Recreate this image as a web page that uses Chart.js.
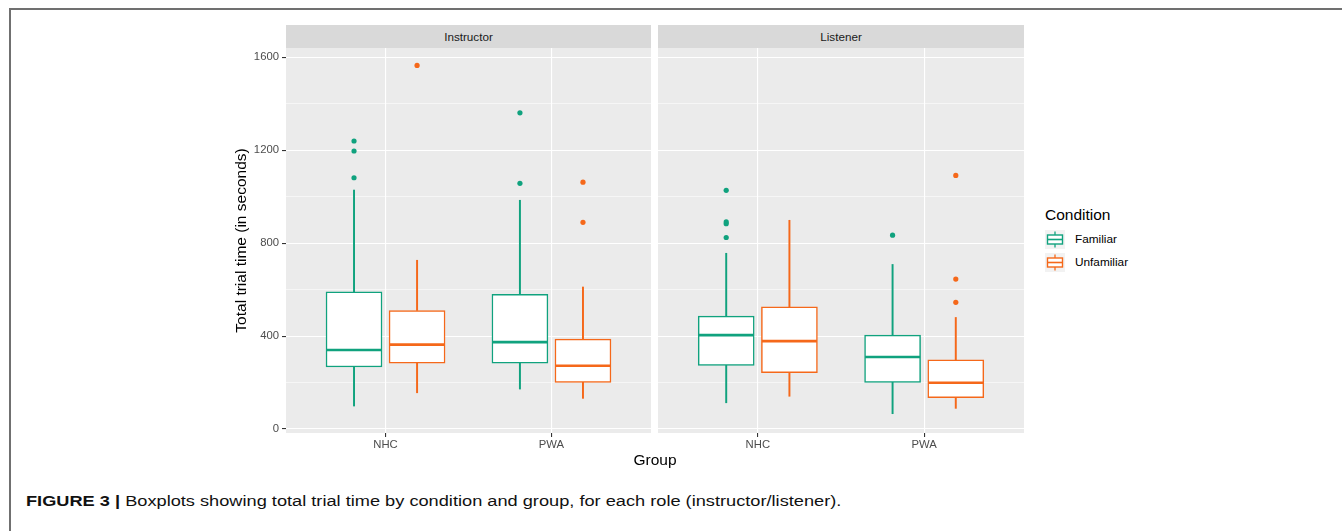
<!DOCTYPE html>
<html>
<head>
<meta charset="utf-8">
<script src="https://cdn.jsdelivr.net/npm/chart.js@4.4.1/dist/chart.umd.min.js"></script>
<style>
  body { margin: 0; background: #fff; font-family: 'Liberation Sans', Arial, sans-serif; }
  #page { position: relative; width: 1342px; height: 531px; overflow: hidden; background: #fff; }
  .frame { position: absolute; left: 9px; top: 8px; width: 1340px; height: 530px; border-top: 2px solid #707070; border-left: 2px solid #707070; }
  .strip { position: absolute; top: 25px; height: 23px; background: #d9d9d9; color: #1a1a1a; font-size: 11.7px; line-height: 23px; text-align: center; }
  .cv { position: absolute; }
  .xtitle { position: absolute; top: 450px; left: 555px; width: 200px; text-align: center; font-size: 15.5px; line-height: 19px; color: #000; }
  .legtitle { position: absolute; left: 1045px; top: 205px; font-size: 15.5px; line-height: 19px; color: #000; }
  .leglab { position: absolute; left: 1075px; font-size: 11.8px; line-height: 14px; color: #000; }
  .caption { position: absolute; left: 26px; top: 492px; font-size: 14px; line-height: 18px; color: #111; white-space: nowrap; transform: scaleX(1.3); transform-origin: 0 0; }
  .caption b { font-weight: bold; }
</style>
</head>
<body>
<div id="page">
  <div class="frame"></div>
  <div class="strip" style="left:286px;width:365px;" id="strip0"></div>
  <div class="strip" style="left:658px;width:366px;" id="strip1"></div>
  <canvas class="cv" id="c0" width="423" height="412" style="left:228px;top:48px;"></canvas>
  <canvas class="cv" id="c1" width="366" height="412" style="left:658px;top:48px;"></canvas>
  <div class="xtitle">Group</div>
  <div class="legtitle">Condition</div>
  <svg style="position:absolute;left:1045px;top:230px;" width="20" height="42" id="legsvg"></svg>
  <div class="leglab" style="top:232px;" id="lab0"></div>
  <div class="leglab" style="top:255px;" id="lab1"></div>
  <div class="caption"><b>FIGURE 3 |</b> Boxplots showing total trial time by condition and group, for each role (instructor/listener).</div>
</div>
<script>
// ---- data ----
const roles = ['Instructor', 'Listener'];
const groups = ['NHC', 'PWA'];
const conditions = ['Familiar', 'Unfamiliar'];
const yTickValues = [0, 200, 400, 600, 800, 1000, 1200, 1400, 1600];
const yTickLabels = [0, 400, 800, 1200, 1600];

// per group: [lower whisker, Q1, median, Q3, upper whisker]
const instructorFamiliar   = [[99, 267, 340, 590, 1028], [172, 283, 374, 579, 984]];
const instructorUnfamiliar = [[156, 283, 363, 510, 726], [132, 201, 272, 387, 611]];
const listenerFamiliar     = [[113, 274, 404, 486, 756], [66, 201, 310, 404, 708]];
const listenerUnfamiliar   = [[141, 242, 378, 526, 898], [89, 135, 199, 298, 480]];

const instructorFamiliarOutliers   = [[1081, 1196, 1239], [1057, 1360]];
const instructorUnfamiliarOutliers = [[1564], [889, 1062]];
const listenerFamiliarOutliers     = [[824, 883, 891, 1027], [834]];
const listenerUnfamiliarOutliers   = [[], [545, 645, 1091]];

// ---- style ----
const colors = ['#10a27e', '#f5681a'];
const dodge = [-0.19, 0.19];
const FONT = "'Liberation Sans', Arial, sans-serif";
Chart.defaults.font.family = FONT;

document.getElementById('strip0').textContent = roles[0];
document.getElementById('strip1').textContent = roles[1];
document.getElementById('lab0').textContent = conditions[0];
document.getElementById('lab1').textContent = conditions[1];

// legend keys
(function () {
  const svg = document.getElementById('legsvg');
  let s = '';
  conditions.forEach((c, i) => {
    const y0 = i * 23;
    const col = colors[i];
    s += `<rect x="0" y="${y0}" width="20" height="19" fill="#f2f2f2"/>`;
    s += `<line x1="10" y1="${y0 + 1.5}" x2="10" y2="${y0 + 17.5}" stroke="${col}" stroke-width="1.3"/>`;
    s += `<rect x="2.5" y="${y0 + 5}" width="15" height="9" fill="#fff" stroke="${col}" stroke-width="1.4"/>`;
    s += `<line x1="2.5" y1="${y0 + 9.5}" x2="17.5" y2="${y0 + 9.5}" stroke="${col}" stroke-width="1.6"/>`;
  });
  svg.innerHTML = s;
})();

const panelBg = {
  id: 'panelBg',
  beforeDraw(chart) {
    const a = chart.chartArea, ctx = chart.ctx;
    ctx.save();
    ctx.fillStyle = '#ebebeb';
    ctx.fillRect(a.left, a.top, a.right - a.left, a.bottom - a.top);
    ctx.restore();
  }
};

function makeDatasets(statsList, outlierList) {
  const ds = [];
  statsList.forEach((stats, c) => {
    const col = colors[c];
    const xs = groups.map((g, i) => i + 1 + dodge[c]);
    ds.push({
      type: 'bar', label: conditions[c] + ' box', order: 3,
      data: stats.map((s, i) => ({ x: xs[i], y: [s[1], s[3]] })),
      backgroundColor: '#ffffff', borderColor: col, borderWidth: 1.5,
      borderSkipped: false, barThickness: 56, grouped: false
    });
    ds.push({
      type: 'bar', label: conditions[c] + ' whiskers', order: 2,
      data: stats.flatMap((s, i) => [{ x: xs[i], y: [s[0], s[1]] }, { x: xs[i], y: [s[3], s[4]] }]),
      backgroundColor: col, borderWidth: 0, barThickness: 1.3, grouped: false
    });
    ds.push({
      type: 'scatter', label: conditions[c] + ' median', order: 1,
      data: stats.map((s, i) => ({ x: xs[i], y: s[2] })),
      pointStyle: 'line', pointRadius: 27.5, pointBorderColor: col, pointBorderWidth: 2.6,
      pointBackgroundColor: col
    });
    ds.push({
      type: 'scatter', label: conditions[c] + ' outliers', order: 0,
      data: outlierList[c].flatMap((arr, i) => arr.map(v => ({ x: xs[i], y: v }))),
      pointStyle: 'circle', pointRadius: 2.6, pointBorderWidth: 0,
      pointBackgroundColor: col, pointBorderColor: col
    });
  });
  return ds;
}

function makePanel(id, statsList, outlierList, showY) {
  return new Chart(document.getElementById(id), {
    type: 'bar',
    data: { datasets: makeDatasets(statsList, outlierList) },
    options: {
      responsive: false, animation: false, events: [],
      layout: { padding: 0, autoPadding: false },
      plugins: { legend: { display: false }, tooltip: { enabled: false } },
      scales: {
        x: {
          type: 'linear', min: 0.4, max: 2.6, offset: false,
          afterBuildTicks: s => { s.ticks = groups.map((g, i) => ({ value: i + 1 })); },
          afterFit: s => { s.height = 27; s.paddingLeft = 0; s.paddingRight = 0; },
          ticks: {
            callback: v => groups[Math.round(v) - 1] || '',
            font: { size: 11.3, family: FONT }, color: '#4d4d4d', padding: 1,
            maxRotation: 0, autoSkip: false
          },
          grid: { color: '#ffffff', lineWidth: 1.1, tickColor: '#333333', tickLength: 4, offset: false },
          border: { display: false }
        },
        y: {
          type: 'linear', min: -17, max: 1639,
          afterBuildTicks: s => { s.ticks = yTickValues.map(v => ({ value: v })); },
          afterFit: s => { s.width = showY ? 58 : 0; s.paddingTop = 0; s.paddingBottom = 0; },
          ticks: {
            display: showY,
            callback: v => yTickLabels.includes(v) ? String(v) : '',
            font: { size: 11.3, family: FONT }, color: '#4d4d4d', padding: 3
          },
          grid: {
            color: '#ffffff',
            lineWidth: ctx => (ctx.tick && yTickLabels.includes(ctx.tick.value)) ? 1.1 : 0.55,
            tickColor: ctx => (ctx.tick && yTickLabels.includes(ctx.tick.value)) ? '#333333' : 'rgba(0,0,0,0)',
            tickLength: 4, drawTicks: showY
          },
          border: { display: false },
          title: {
            display: showY, text: 'Total trial time (in seconds)',
            font: { size: 15.5, family: FONT }, color: '#000', padding: { top: 4, bottom: 0 }
          }
        }
      }
    },
    plugins: [panelBg]
  });
}

makePanel('c0', [instructorFamiliar, instructorUnfamiliar], [instructorFamiliarOutliers, instructorUnfamiliarOutliers], true);
makePanel('c1', [listenerFamiliar, listenerUnfamiliar], [listenerFamiliarOutliers, listenerUnfamiliarOutliers], false);
</script>
</body>
</html>
